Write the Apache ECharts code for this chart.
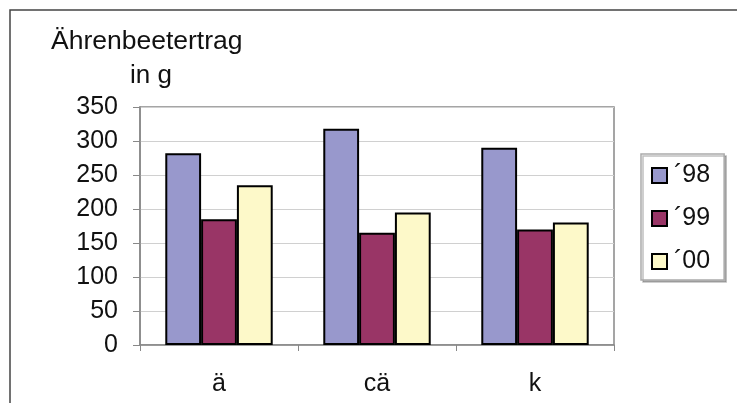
<!DOCTYPE html>
<html>
<head>
<meta charset="utf-8">
<script src="https://cdn.jsdelivr.net/npm/echarts@6/dist/echarts.min.js"></script>
<style>
  html, body { margin: 0; padding: 0; background: #fff; }
  #chart { width: 737px; height: 403px; }
</style>
</head>
<body>
<div id="chart"></div>
<script>
// Ear-bed yield per plot type, three seasons
const categories = ['ä', 'cä', 'k'];
const seriesNames = ['´98', '´99', '´00'];
const yield98 = [282, 318, 290];
const yield99 = [185, 165, 170];
const yield00 = [235, 195, 180];
const yTicks = { min: 0, max: 350, interval: 50 };

const colors = ['#9898cc', '#993566', '#fdf9c9'];
const font = 'Liberation Sans, Arial, sans-serif';
const fs = 25;

const chart = echarts.init(document.getElementById('chart'));

const values = [yield98, yield99, yield00];

chart.setOption({
  animation: false,
  backgroundColor: '#fff',
  textStyle: { fontFamily: font },
  graphic: [{
    type: 'rect',
    shape: { x: 10, y: 10, width: 800, height: 500 },
    style: { fill: 'none', stroke: '#444', lineWidth: 1.5 },
    silent: true
  }],
  title: [
    { text: 'Ährenbeetertrag', left: 51, top: 28, padding: 0,
      textStyle: { fontSize: 26.5, fontWeight: 'normal', color: '#111', fontFamily: font } },
    { text: 'in g', left: 130, top: 63, padding: 0,
      textStyle: { fontSize: 26, fontWeight: 'normal', color: '#111', fontFamily: font } }
  ],
  legend: {
    orient: 'vertical',
    left: 641, top: 154,
    padding: [9, 14, 6, 10],
    itemGap: 18,
    itemWidth: 15, itemHeight: 15,
    icon: 'rect',
    backgroundColor: '#fff',
    borderColor: '#aaa',
    borderWidth: 1.5,
    shadowColor: 'rgba(0,0,0,0.25)',
    shadowOffsetX: 2,
    shadowOffsetY: 2,
    itemStyle: { borderColor: '#000', borderWidth: 2 },
    textStyle: { fontSize: fs, lineHeight: 25, color: '#111', fontFamily: font, padding: [0, 0, 0, 2] },
    data: seriesNames
  },
  grid: {
    left: 140, top: 107, right: 123, bottom: 58,
    show: true, borderColor: '#888', borderWidth: 1.5, backgroundColor: '#fff'
  },
  xAxis: {
    type: 'category',
    data: categories,
    axisLine: { lineStyle: { color: '#888', width: 1.5 } },
    axisTick: { show: true, length: 6, lineStyle: { color: '#888' } },
    axisLabel: { fontSize: fs, color: '#111', margin: 27, fontFamily: font }
  },
  yAxis: {
    type: 'value',
    min: yTicks.min, max: yTicks.max, interval: yTicks.interval,
    axisLine: { show: true, lineStyle: { color: '#888', width: 1.5 } },
    axisTick: { show: true, length: 7, lineStyle: { color: '#888' } },
    axisLabel: { fontSize: fs, color: '#111', margin: 22, fontFamily: font },
    splitLine: { lineStyle: { color: '#d0d0d0', width: 1 } }
  },
  series: seriesNames.map((name, i) => ({
    name,
    type: 'bar',
    data: values[i],
    barGap: '0%',
    barCategoryGap: '32%',
    itemStyle: { color: colors[i], borderColor: '#000', borderWidth: 2 }
  }))
});
</script>
</body>
</html>
